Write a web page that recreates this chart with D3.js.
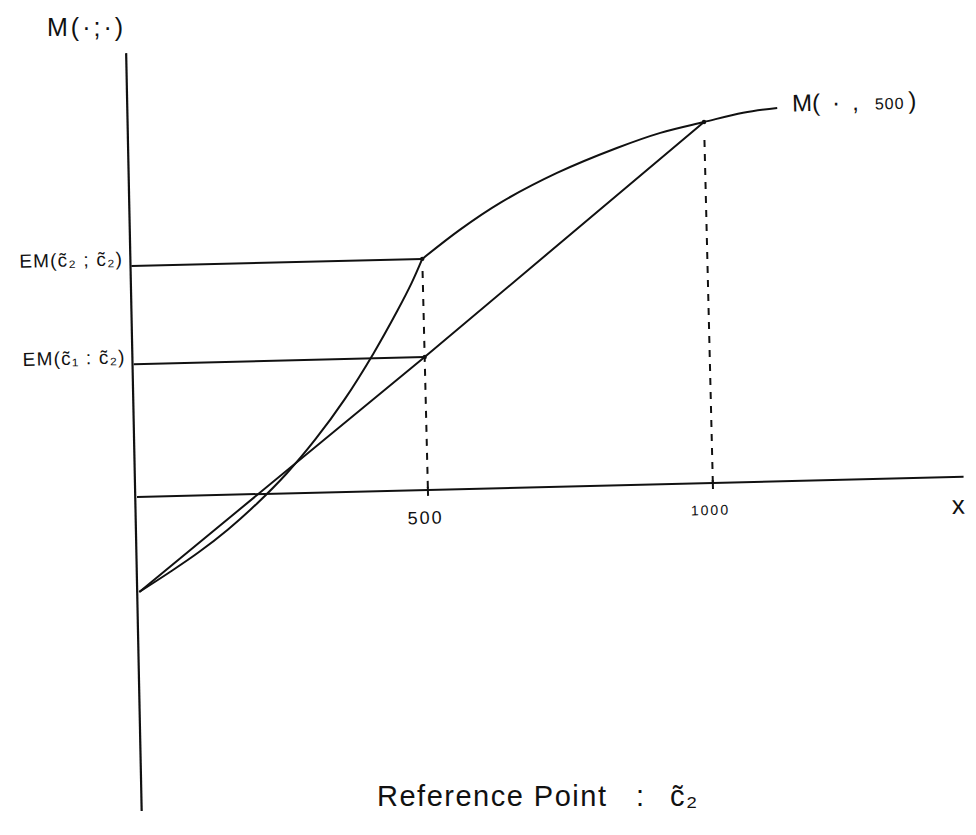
<!DOCTYPE html>
<html>
<head>
<meta charset="utf-8">
<script src="https://cdn.jsdelivr.net/npm/d3@7"></script>
<style>
  html, body { margin: 0; padding: 0; background: #fff; }
  svg { display: block; }
  text { font-family: "Liberation Sans", "DejaVu Sans", sans-serif; fill: #111; }
</style>
</head>
<body>
<svg id="chart" width="976" height="835"></svg>
<script>
// Outcome x (dollars) and the value M(x, 500), reference point 500.
// Convex branch below the reference point, concave branch above it.
const lossX = [0, 51.5, 103, 155, 206, 258, 309, 361, 412, 455, 481, 500];
const lossM = [-26.3, -21.2, -15.8, -9.6, -2.6, 5.5, 14.8, 25.7, 38.1, 49.8, 57.5, 64.0];
const gainX = [500, 567, 639, 740, 846, 923, 1000, 1069, 1129];
const gainM = [64.0, 71.8, 79.0, 86.9, 93.4, 97.3, 100.0, 102.3, 103.4];

// Chord joining M(0) and M(1000): the 50/50 lottery
const chordX = [0, 500, 1000];
const chordM = [-26.3, 36.8, 100.0];

// Expected-M levels read on the vertical axis
const levelLabels = ["EM(c\u0303\u2082 ; c\u0303\u2082)", "EM(c\u0303\u2081 : c\u0303\u2082)"];
const levelValues = [64.0, 36.8];
const levelX = [500, 500];

// Axis ticks and extents
const tickValues = [500, 1000];
const tickLabels = ["500", "1000"];
const xExtent = [0, 1440];
const yExtent = [-87, 123];

const svg = d3.select("#chart");

// Piecewise x scale (0, 500, 1000) and linear y scale, origin at 0
const x = d3.scaleLinear().domain([0, 500, 1000]).range([0, 291, 576]);
const y = d3.scaleLinear().domain([0, 100]).range([0, -361]);

// The sketch sits slightly tilted on the page
const g = svg.append("g").attr("transform", "translate(137,497) rotate(-1.4)");

const ink = "#111";

// Axes
g.append("line")
  .attr("x1", x(xExtent[0])).attr("x2", x(xExtent[1]))
  .attr("y1", y(0)).attr("y2", y(0))
  .attr("stroke", ink).attr("stroke-width", 2);
g.append("line")
  .attr("x1", 0).attr("x2", -3)
  .attr("y1", y(yExtent[1])).attr("y2", y(yExtent[0]))
  .attr("stroke", ink).attr("stroke-width", 2.2);

// Ticks and their labels
g.selectAll(".tick").data(tickValues).join("line")
  .attr("class", "tick")
  .attr("x1", d => x(d)).attr("x2", d => x(d))
  .attr("y1", -3).attr("y2", 6)
  .attr("stroke", ink).attr("stroke-width", 2);
g.selectAll(".ticklabel").data(tickValues).join("text")
  .attr("class", "ticklabel")
  .attr("x", d => x(d) - 3).attr("y", (d, i) => i === 0 ? 34 : 32)
  .attr("text-anchor", "middle")
  .attr("font-size", (d, i) => i === 0 ? 18 : 14)
  .attr("letter-spacing", 2)
  .text((d, i) => tickLabels[i]);
g.append("text")
  .attr("x", x(xExtent[1]) - 6).attr("y", 37)
  .attr("text-anchor", "middle")
  .attr("font-size", 26)
  .text("x");

// Dashed drop lines from the curve down to the axis
const dropX = [500, 1000];
const dropM = [64.0, 100.0];
g.selectAll(".drop").data(dropX).join("line")
  .attr("class", "drop")
  .attr("x1", d => x(d)).attr("x2", d => x(d))
  .attr("y1", (d, i) => y(dropM[i]) + (i === 0 ? 12 : 18))
  .attr("y2", y(0))
  .attr("stroke", ink).attr("stroke-width", 2)
  .attr("stroke-dasharray", "7,7");

// Horizontal EM levels from the vertical axis to x = 500
g.selectAll(".level").data(levelValues).join("line")
  .attr("class", "level")
  .attr("x1", 0).attr("x2", (d, i) => x(levelX[i]))
  .attr("y1", d => y(d)).attr("y2", d => y(d))
  .attr("stroke", ink).attr("stroke-width", 2);
g.selectAll(".levellabel").data(levelValues).join("text")
  .attr("class", "levellabel")
  .attr("x", -8).attr("y", d => y(d) - 1)
  .attr("text-anchor", "end")
  .attr("font-size", 19)
  .attr("letter-spacing", 1.2)
  .text((d, i) => levelLabels[i]);

// The curve M(., 500), drawn as its two branches
const curve = d3.line()
  .x(d => x(d[0])).y(d => y(d[1]))
  .curve(d3.curveCatmullRom.alpha(0.5));
g.append("path")
  .attr("d", curve(lossX.map((v, i) => [v, lossM[i]])))
  .attr("fill", "none").attr("stroke", ink).attr("stroke-width", 2);
g.append("path")
  .attr("d", curve(gainX.map((v, i) => [v, gainM[i]])))
  .attr("fill", "none").attr("stroke", ink).attr("stroke-width", 2);

// Chord
g.append("path")
  .attr("d", d3.line().x(d => x(d[0])).y(d => y(d[1]))(chordX.map((v, i) => [v, chordM[i]])))
  .attr("fill", "none").attr("stroke", ink).attr("stroke-width", 2);

// Marked points
const dotX = [500, 500, 1000];
const dotM = [64.0, 36.8, 100.0];
g.selectAll(".dot").data(dotX).join("circle")
  .attr("class", "dot")
  .attr("cx", d => x(d)).attr("cy", (d, i) => y(dotM[i]))
  .attr("r", 2.2).attr("fill", ink);

// Curve label at its right end
const lastX = gainX[gainX.length - 1], lastM = gainM[gainM.length - 1];
const curveLabel = g.append("text")
  .attr("x", x(lastX) + 15).attr("y", y(lastM) + 4)
  .attr("font-size", 24);
curveLabel.append("tspan").text("M(");
curveLabel.append("tspan").attr("dx", 12).text("\u00b7");
curveLabel.append("tspan").attr("dx", 12).text(",");
curveLabel.append("tspan").attr("dx", 16).attr("font-size", 16).attr("letter-spacing", 1).text("500");
curveLabel.append("tspan").attr("dx", 4).text(")");

// Vertical axis title and caption
svg.append("text")
  .attr("x", 47).attr("y", 36)
  .attr("font-size", 25)
  .attr("letter-spacing", 3)
  .text("M(\u00b7;\u00b7)");
const caption = svg.append("text")
  .attr("y", 806)
  .attr("font-size", 29)
  .attr("letter-spacing", 1.5);
caption.append("tspan").attr("x", 377).text("Reference Point");
caption.append("tspan").attr("x", 636).text(":");
caption.append("tspan").attr("x", 670).text("c\u0303\u2082");
</script>
</body>
</html>
